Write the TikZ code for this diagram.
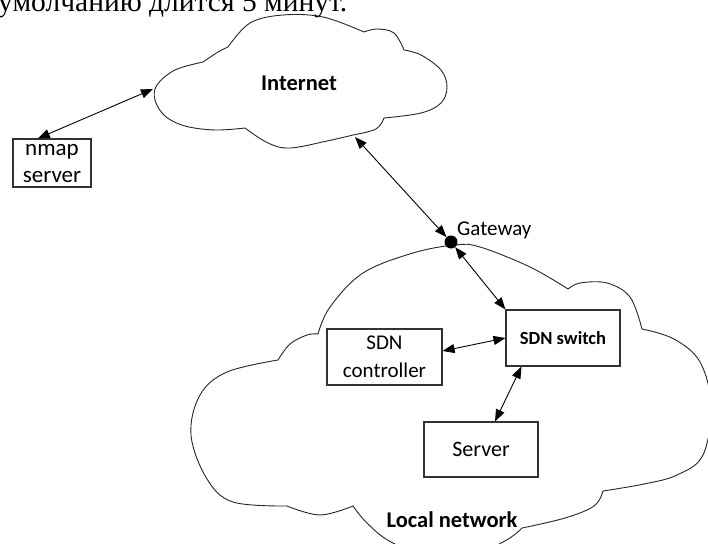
\documentclass[tikz,border=0pt]{standalone}
\usepackage{fontspec}
\newfontfamily\calfont{Carlito}
\newfontfamily\serfont{Liberation Serif}
\usetikzlibrary{arrows.meta,calc}
\begin{document}
\begin{tikzpicture}[x=1pt,y=-1pt,
  box/.style={draw=black!80, line width=1.1pt, fill=white, inner sep=0pt, align=center},
  arr/.style={{Triangle[length=12pt,width=9pt]}-{Triangle[length=12pt,width=9pt]}, line width=0.9pt},
  cloudline/.style={draw=black!85, line width=0.9pt, line join=miter}]
\path[use as bounding box] (0,0) rectangle (708,543);
\begin{scope}
\clip (0,0) rectangle (708,543);
\node[anchor=base west, inner sep=0pt, font=\serfont\fontsize{29.5}{34}\selectfont] (cap) at (-2,12) {умолчанию длится 5 минут.};

% Internet cloud
\draw[cloudline]
  plot[smooth, tension=0.6] coordinates {(245,128) (268,143) (290,148) (327,141) (353,135)}
  -- plot[smooth, tension=0.6] coordinates {(353,135) (376,129) (384,118)}
  -- plot[smooth, tension=0.6] coordinates {(384,118) (421,113) (441,103) (447,87) (441,70) (421,55) (404,50)}
  -- plot[smooth, tension=0.6] coordinates {(404,50) (394,33) (377,29) (364,32)}
  -- plot[smooth, tension=0.6] coordinates {(364,32) (323,17) (283,15) (250,23) (228,47)}
  -- plot[smooth, tension=0.6] coordinates {(228,47) (218,52) (203,62)}
  -- plot[smooth, tension=0.6] coordinates {(203,62) (175,70) (157,85) (155,100) (165,116) (185,126) (215,130) (245,128)}
  -- cycle;

% Local network cloud
\draw[cloudline]
  plot[smooth, tension=0.6] coordinates {(318,334) (330,307) (363,273) (413,253) (455,245) (480,247) (530,267) (568,289)}
  -- plot[smooth, tension=0.6] coordinates {(568,289) (580,283) (607,283) (630,297) (642,329)}
  -- plot[smooth, tension=0.6] coordinates {(642,329) (674,339) (700,362) (711,405) (703,455) (677,475) (644,484) (603,491)}
  -- plot[smooth, tension=0.6] coordinates {(603,491) (594,506) (565,518) (522,528)}
  -- plot[smooth, tension=0.6] coordinates {(522,528) (503,542) (450,565) (393,543) (367,523) (353,506)}
  -- plot[smooth, tension=0.6] coordinates {(353,506) (320,515) (287,506)}
  -- plot[smooth, tension=0.6] coordinates {(287,506) (233,502) (207,479) (191,435) (200,395) (227,372) (278,360)}
  -- plot[smooth, tension=0.6] coordinates {(278,360) (290,344) (307,335) (318,334)}
  -- cycle;

\node[font=\calfont\bfseries\fontsize{22.5}{27}\selectfont] (inet) at (299,83) {Internet};
\node[anchor=base, font=\calfont\bfseries\fontsize{22.5}{27}\selectfont] (lan) at (452,527) {Local network};

\node[circle, fill=black, inner sep=0pt, minimum size=13pt] (gw) at (451,242) {};
\node[anchor=base west, inner sep=0pt, font=\calfont\fontsize{21}{25}\selectfont] (gwl) at (457,235) {Gateway};

\node[box, minimum width=78pt, minimum height=48pt, font=\calfont\fontsize{23}{27}\selectfont] (nmap) at (52,163) {nmap\\server};
\node[box, minimum width=115pt, minimum height=56pt, font=\calfont\fontsize{21}{28}\selectfont] (ctrl) at (384.5,357) {SDN\\controller};
\node[box, minimum width=114pt, minimum height=56pt, font=\calfont\bfseries\fontsize{18.5}{22}\selectfont] (sw) at (563,338) {SDN switch};
\node[box, minimum width=114pt, minimum height=55pt, font=\calfont\fontsize{22}{26}\selectfont] (srv) at (481,449.5) {Server};

\coordinate (inetL) at (153,89);
\coordinate (inetB) at (355,137);
\draw[arr] ($(nmap.north west)!0.32!(nmap.north east)$) -- (inetL);
\draw[arr] (inetB) -- (gw);
\draw[arr] (gw) -- (sw.north west);
\draw[arr] ($(ctrl.east)+(0,-6)$) -- (sw.west);
\draw[arr] ($(sw.south west)+(16,0)$) -- ($(srv.north)+(14,0)$);
\end{scope}
\end{tikzpicture}
\end{document}
